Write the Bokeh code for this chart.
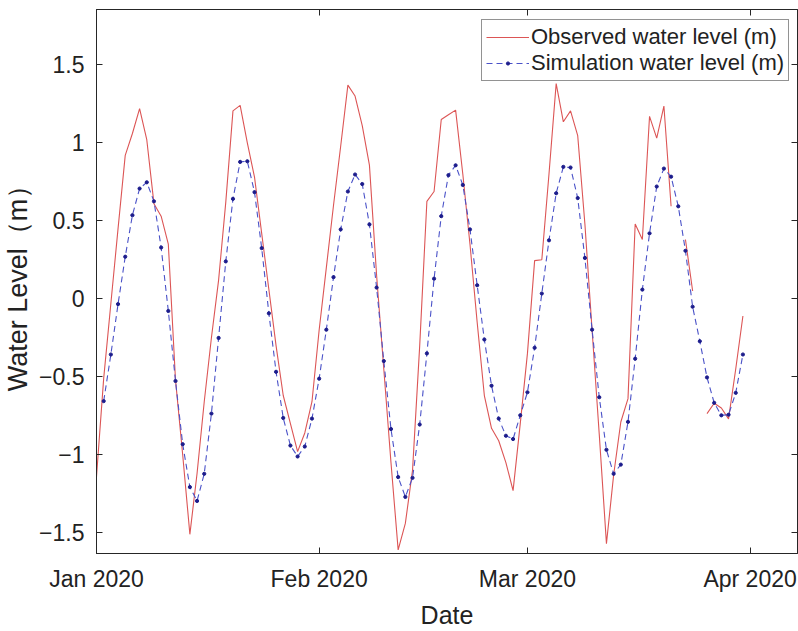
import numpy as np
import pandas as pd
from bokeh.plotting import figure
from bokeh.models import (Range1d, FixedTicker, DatetimeTickFormatter, DatetimeAxis,
                          LinearAxis, Legend, LegendItem, ColumnDataSource,
                          CustomLabelingPolicy)
from bokeh.embed import file_html
from bokeh.resources import INLINE

# Daily observed water level (m), 1 Jan - 31 Mar 2020; NaN = missing record
observed = [
    -1.14, -0.51, -0.03, 0.45, 0.92, 1.06, 1.22, 1.02, 0.61, 0.53,
    0.35, -0.52, -1.00, -1.51, -1.12, -0.66, -0.25, 0.12, 0.62, 1.205,
    1.24, 1.00, 0.78, 0.42, 0.06, -0.30, -0.62, -0.80, -0.98, -0.86,
    -0.66, -0.20, 0.20, 0.60, 0.98, 1.37, 1.30, 1.11, 0.857, 0.15,
    -0.45, -1.05, -1.61, -1.44, -1.10, -0.30, 0.625, 0.688, 1.15, 1.18,
    1.21, 0.80, 0.35, -0.15, -0.62, -0.83, -0.91, -1.05, -1.23, -0.80,
    -0.35, 0.245, 0.25, 0.80, 1.38, 1.135, 1.205, 1.046, 0.48, -0.20,
    -0.87, -1.57, -1.13, -0.79, -0.64, 0.48, 0.38, 1.17, 1.03, 1.236,
    0.593, np.nan, 0.38, 0.05, np.nan, -0.736, -0.67, -0.70, -0.77, -0.45,
    -0.11,
]

# Daily simulated water level (m), 2 Jan - 31 Mar 2020
simulated = [
    -0.656, -0.357, -0.034, 0.270, 0.536, 0.707, 0.747, 0.625, 0.329,
    -0.078, -0.527, -0.932, -1.207, -1.296, -1.122, -0.736, -0.251, 0.240, 0.641,
    0.878, 0.882, 0.684, 0.325, -0.093, -0.468, -0.764, -0.941, -1.011, -0.947,
    -0.768, -0.512, -0.198, 0.139, 0.445, 0.688, 0.797, 0.736, 0.477, 0.072,
    -0.399, -0.835, -1.143, -1.270, -1.148, -0.806, -0.350, 0.129, 0.530, 0.793,
    0.856, 0.730, 0.445, 0.087, -0.261, -0.557, -0.768, -0.878, -0.899, -0.747,
    -0.599, -0.314, 0.034, 0.375, 0.677, 0.846, 0.842, 0.646, 0.262, -0.198,
    -0.631, -0.968, -1.122, -1.063, -0.789, -0.384, 0.059, 0.420, 0.720, 0.835,
    0.783, 0.593, 0.308, -0.051, -0.272, -0.504, -0.667, -0.747, -0.743, -0.603,
    -0.357,
]

tick_dates = ["2020-01-01", "2020-02-01", "2020-03-01", "2020-04-01"]
y_ticks = [-1.5, -1, -0.5, 0, 0.5, 1, 1.5]

obs_dates = pd.date_range("2020-01-01", periods=len(observed), freq="D")
sim_dates = pd.date_range("2020-01-02", periods=len(simulated), freq="D")

obs_src = ColumnDataSource(dict(x=obs_dates, y=observed))
sim_src = ColumnDataSource(dict(x=sim_dates, y=simulated))

FONT = "Liberation Sans"
AXC = "#262626"
TXT = "#222222"

x0 = pd.Timestamp("2020-01-01")
x1 = x0 + pd.Timedelta(days=97.6)

p = figure(width=798, height=631, x_axis_type="datetime",
           x_range=Range1d(x0, x1), y_range=Range1d(-1.633, 1.855),
           output_backend="svg", toolbar_location=None,
           min_border_left=96, min_border_right=1,
           min_border_top=9, min_border_bottom=71)
p.background_fill_color = "white"
p.border_fill_color = "white"
p.outline_line_color = AXC
p.xgrid.visible = False
p.ygrid.visible = False

tick_ms = [pd.Timestamp(t).value / 1e6 for t in tick_dates]
fmt = DatetimeTickFormatter(days="%b %Y", months="%b %Y", years="%b %Y",
                            hours="%b %Y", minutes="%b %Y", seconds="%b %Y",
                            milliseconds="%b %Y", microseconds="%b %Y",
                            context=None)

# mirror axes (top/right) carry ticks only, no labels
no_labels = CustomLabelingPolicy(code="""
    for (const i of indices) { indices.unset(i) }
    return indices
""")


def style_axis(ax, show_labels):
    ax.axis_line_color = AXC
    ax.major_tick_line_color = AXC
    ax.major_tick_in = 6
    ax.major_tick_out = 0
    ax.minor_tick_in = 0
    ax.minor_tick_out = 0
    ax.major_label_text_font = FONT
    ax.major_label_text_color = TXT
    if show_labels:
        ax.major_label_text_font_size = "23px"
        ax.major_label_standoff = 12
    else:
        ax.major_label_text_font_size = "0px"
        ax.major_label_standoff = 0
        ax.major_label_policy = no_labels


xa = p.xaxis[0]
xa.ticker = FixedTicker(ticks=tick_ms)
xa.formatter = fmt
style_axis(xa, True)
xa.axis_label = "Date"
xa.axis_label_text_font = FONT
xa.axis_label_text_font_style = "normal"
xa.axis_label_text_font_size = "25px"
xa.axis_label_text_color = TXT
xa.axis_label_standoff = 6

ya = p.yaxis[0]
ya.ticker = FixedTicker(ticks=y_ticks)
style_axis(ya, True)
ya.axis_label = "Water Level（m）"
ya.axis_label_text_font = FONT
ya.axis_label_text_font_style = "normal"
ya.axis_label_text_font_size = "27px"
ya.axis_label_text_color = TXT
ya.axis_label_standoff = 3

top = DatetimeAxis(ticker=FixedTicker(ticks=tick_ms), formatter=fmt)
style_axis(top, False)
p.add_layout(top, "above")

right = LinearAxis(ticker=FixedTicker(ticks=y_ticks))
style_axis(right, False)
p.add_layout(right, "right")

obs_r = p.line("x", "y", source=obs_src, line_color="#dc5555", line_width=1.1)
sim_line = p.line("x", "y", source=sim_src, line_color="#4a52c8",
                  line_width=1.1, line_dash="6 4")
sim_pts = p.scatter("x", "y", source=sim_src, marker="circle", size=3.2,
                    fill_color="#1c1c8c", line_color="#1c1c8c")

legend = Legend(items=[
    LegendItem(label="Observed water level (m)", renderers=[obs_r]),
    LegendItem(label="Simulation water level (m)", renderers=[sim_line, sim_pts]),
], location=(385, 472))
legend.margin = 0
legend.padding = 4
legend.spacing = 0
legend.glyph_width = 43
legend.glyph_height = 8
legend.label_height = 22
legend.label_standoff = 2
legend.label_text_font = FONT
legend.label_text_font_size = "22px"
legend.label_text_color = TXT
legend.border_line_color = AXC
legend.border_line_width = 1
legend.background_fill_color = "white"
legend.background_fill_alpha = 1
p.add_layout(legend)

open("out.html", "w").write(file_html(p, INLINE))
